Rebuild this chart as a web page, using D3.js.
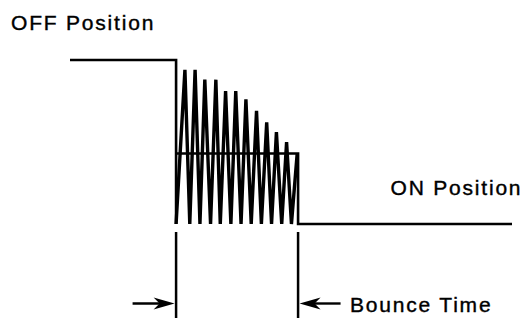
<!DOCTYPE html>
<html>
<head>
<meta charset="utf-8">
<script src="https://cdn.jsdelivr.net/npm/d3@7"></script>
<style>
  body { margin: 0; background: #fff; }
  svg text { font-family: "Liberation Sans", Arial, sans-serif; font-size: 21px; letter-spacing: 1.8px; fill: #000; stroke: #000; stroke-width: 0.4px; }
</style>
</head>
<body>
<svg id="chart" width="526" height="318"></svg>
<script>
// time axis is arbitrary units 0..100, level 1 = OFF, 0 = ON
const switchTime = 24.0;
const bounceEnd = 51.6;
const endTime = 100;
const meanLevel = 0.43;

const peakTimes = [26.0, 28.3, 30.5, 33.0, 35.2, 37.5, 39.8, 42.2, 44.5, 46.7, 49.0];
const peakLevels = [0.94, 0.94, 0.88, 0.88, 0.81, 0.81, 0.76, 0.69, 0.62, 0.56, 0.50];
const troughTimes = [27.1, 29.4, 31.8, 34.0, 36.4, 38.7, 41.0, 43.3, 45.6, 47.9, 50.1];
const lastRiseTime = 51.4;

const labels = ["OFF Position", "ON Position", "Bounce Time"];

const svg = d3.select("#chart");

const x = d3.scaleLinear().domain([0, endTime]).range([70, 512]);
const y = d3.scaleLinear().domain([0, 1]).range([224, 60]);

const line = d3.line()
    .x(d => x(d[0]))
    .y(d => y(d[1]));

// OFF level, drop at switch time
const stepPts = [[0, 1], [switchTime, 1], [switchTime, 0]];

// averaged level box then ON level
const boxPts = [[switchTime, meanLevel], [bounceEnd, meanLevel], [bounceEnd, 0], [endTime, 0]];

// bounce zigzag: trough -> peak -> trough ...
const bouncePts = [[switchTime, 0]];
peakTimes.forEach((t, i) => {
    bouncePts.push([t, peakLevels[i]]);
    bouncePts.push([troughTimes[i], 0]);
});
bouncePts.push([lastRiseTime, meanLevel]);

svg.append("path")
    .attr("d", line(bouncePts))
    .attr("fill", "none")
    .attr("stroke", "#000")
    .attr("stroke-width", 3.4);

svg.append("path")
    .attr("d", line(stepPts))
    .attr("fill", "none")
    .attr("stroke", "#000")
    .attr("stroke-width", 2.6);

svg.append("path")
    .attr("d", line(boxPts))
    .attr("fill", "none")
    .attr("stroke", "#000")
    .attr("stroke-width", 2.6);

// bounce time markers
const markerTop = 232, markerBottom = 318, arrowY = 303.5;
const markers = [switchTime, bounceEnd];
svg.append("g")
    .selectAll("line")
    .data(markers)
    .enter()
    .append("line")
    .attr("x1", d => x(d))
    .attr("x2", d => x(d))
    .attr("y1", markerTop)
    .attr("y2", markerBottom)
    .attr("stroke", "#000")
    .attr("stroke-width", 2.5);

// arrows pointing at the markers from outside
const arrows = [
    {t: switchTime, dir: 1, len: 42},
    {t: bounceEnd, dir: -1, len: 41}
];
arrows.forEach(a => {
    const tip = x(a.t) - a.dir * 1.5;
    const tail = tip - a.dir * a.len;
    svg.append("line")
        .attr("x1", tail).attr("x2", tip - a.dir * 10)
        .attr("y1", arrowY).attr("y2", arrowY)
        .attr("stroke", "#000")
        .attr("stroke-width", 2.4);
    const b = tip - a.dir * 21;
    svg.append("path")
        .attr("d", `M${tip},${arrowY} L${b},${arrowY - 6} L${b + a.dir * 6},${arrowY} L${b},${arrowY + 6} Z`)
        .attr("fill", "#000");
});

svg.append("text").attr("x", 11).attr("y", 30).text(labels[0]);
svg.append("text").attr("x", 390.5).attr("y", 195).text(labels[1]);
svg.append("text").attr("x", 350).attr("y", 311.7).text(labels[2]);
</script>
</body>
</html>
